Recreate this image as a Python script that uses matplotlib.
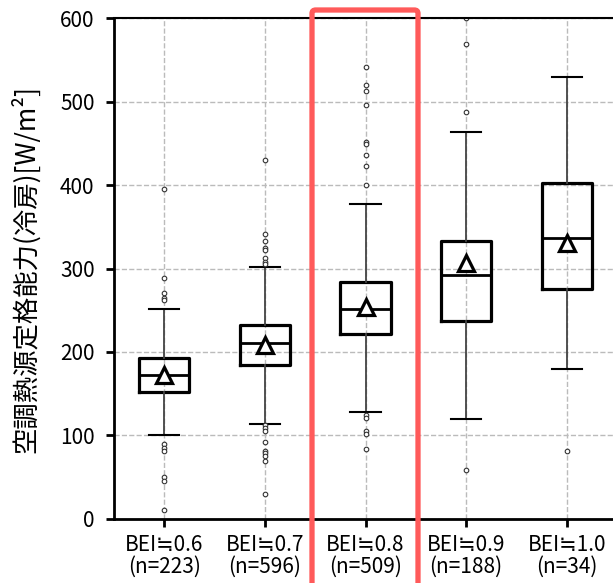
import matplotlib.pyplot as plt
from matplotlib.patches import FancyBboxPatch

plt.rcParams['font.family'] = ['Noto Sans CJK JP', 'DejaVu Sans']

# categories and counts
labels = ['BEI≒0.6', 'BEI≒0.7', 'BEI≒0.8', 'BEI≒0.9', 'BEI≒1.0']
counts = [223, 596, 509, 188, 34]

# box summary [W/m2]
q1 = [152, 184, 221, 237, 275]
med = [172, 211, 252, 292, 336]
q3 = [193, 232, 284, 333, 402]
mean = [172, 208, 254, 306, 330]
whislo = [100, 114, 128, 120, 180]
whishi = [251, 302, 377, 464, 529]

fliers = [
    [395, 289, 271, 265, 262, 90, 85, 81, 50, 45, 11],
    [430, 341, 333, 324, 322, 313, 308, 305, 112, 109, 105, 92, 82, 79, 75, 70, 30],
    [541, 520, 513, 496, 452, 449, 436, 423, 400, 125, 121, 105, 102, 84],
    [600, 569, 488, 59],
    [81],
]

yticks = [0, 100, 200, 300, 400, 500, 600]

stats = []
for i in range(len(labels)):
    stats.append(dict(label=labels[i] + '\n(n=' + str(counts[i]) + ')',
                      q1=q1[i], med=med[i], q3=q3[i], mean=mean[i],
                      whislo=whislo[i], whishi=whishi[i], fliers=fliers[i]))

fig = plt.figure(figsize=(6.13, 5.83), dpi=100)
ax = fig.add_axes([0.186, 0.1098, 0.8206, 0.8593])

ax.bxp(stats, widths=0.5, showmeans=True, capwidths=0.3,
       boxprops=dict(color='black', linewidth=2.3),
       medianprops=dict(color='black', linewidth=2.0),
       whiskerprops=dict(color='#444444', linewidth=1.3),
       capprops=dict(color='black', linewidth=1.5),
       meanprops=dict(marker='^', markerfacecolor='white', markeredgecolor='black',
                      markersize=11.5, markeredgewidth=2.3),
       flierprops=dict(marker='o', markerfacecolor='white', markeredgecolor='#333333',
                       markersize=3.3, markeredgewidth=0.8))

ax.set_xlim(0.5, 5.5)
ax.set_ylim(0, 600)
ax.set_yticks(yticks)
ax.grid(True, linestyle='--', color='#bbbbbb', linewidth=1.0)
ax.set_axisbelow(True)

for s in ['left', 'bottom']:
    ax.spines[s].set_linewidth(2.0)
ax.spines['top'].set_linewidth(1.5)
ax.spines['right'].set_visible(False)

ax.tick_params(axis='y', labelsize=15, length=6, width=2, pad=8)
ax.tick_params(axis='x', labelsize=15, length=6, width=2, pad=5)
for t in ax.get_xticklabels():
    t.set_linespacing(1.0)

ax.set_ylabel('空調熱源定格能力(冷房)[W/m²]', fontsize=19, labelpad=14)

# highlight frame around the third group
frame = FancyBboxPatch((312 / 613, -0.05), (418 - 312) / 613, 1.05 - 10 / 583,
                       boxstyle='round,pad=0,rounding_size=0.006',
                       transform=fig.transFigure, fill=False,
                       edgecolor='#ff5a5a', linewidth=3.8, clip_on=False)
fig.add_artist(frame)

fig.savefig('out.png', dpi=100)
